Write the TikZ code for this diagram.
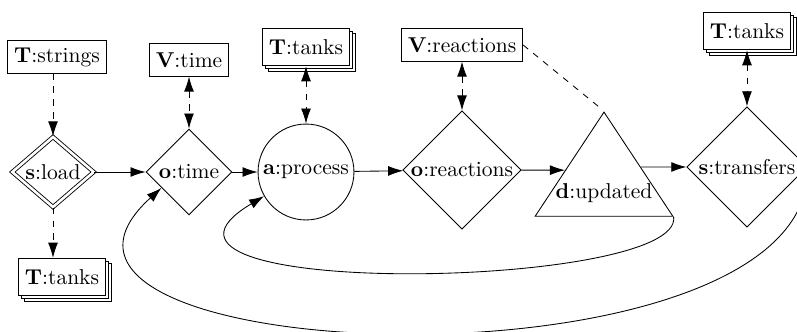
\documentclass[tikz,border=0pt]{standalone}
\usepackage{amssymb}
\usepackage{amsmath}
\usepackage{tikz}
\usetikzlibrary{shapes.geometric, arrows.meta, shadows, calc}

\begin{document}
\begin{tikzpicture}[
                x=0.465pt, y=-0.465pt,
                >={Latex[length=7pt,width=4.6pt]}, % big filled tips
                box/.style={rectangle, draw, fill=white, minimum height=15pt, inner sep=3pt}, % store
                tanks/.style={box, minimum height=17.5pt, double copy shadow={shadow xshift=1.3pt, shadow yshift=-1.3pt}}, % stacked store
                decision/.style={diamond, draw, fill=white, aspect=1, inner sep=0pt}, % observer or setter
                action/.style={circle, draw, fill=white, inner sep=0pt, minimum size=44.6pt}, % action
                result/.style={isosceles triangle, shape border rotate=90, isosceles triangle stretches, draw, fill=white, inner sep=0pt, minimum width=64pt, minimum height=48.4pt} % derived data
                ]
                \useasboundingbox (0,0) rectangle (797,331);
                % stores on top
                \node[box] (tstr) at (57,57) {\textbf{T}:strings};
                \node[box] (vtime) at (189,60) {\textbf{V}:time};
                \node[tanks] (ttkb) at (306,47) {\textbf{T}:tanks};
                \node[box] (vreac) at (462,45) {\textbf{V}:reactions};
                \node[tanks] (ttkc) at (747,31) {\textbf{T}:tanks};
                % main row
                \node[decision, double, double distance=1.2pt, minimum width=38pt, minimum height=31pt] (sload) at (53,172) {\textbf{s}:load};
                \node[decision, minimum size=40pt] (otime) at (189,172) {\textbf{o}:time};
                \node[action] (aproc) at (306,172) {\textbf{a}:process};
                \node[decision, minimum size=55pt] (oreac) at (462,170) {\textbf{o}:reactions};
                \node[result, anchor=apex] (dupd) at (604,111) {\makebox[0pt]{\smash{\raisebox{-9pt}{\textbf{d}:updated}}}};
                \node[decision, minimum size=56pt] (strans) at (747,167) {\textbf{s}:transfers};
                % store below
                \node[tanks] (ttka) at (62,277) {\textbf{T}:tanks};

                \draw[->, dashed] (tstr.south -| sload) -- (sload);
                \draw[->, dashed] (sload) -- (sload |- ttka.north);
                \draw[<->, dashed] (vtime) -- (otime);
                \draw[<->, dashed] (ttkb) -- (aproc);
                \draw[<->, dashed] (vreac) -- (oreac);
                \draw[<->, dashed] (ttkc) -- (strans);
                \draw[dashed, shorten >=3pt] (vreac.east) -- (dupd.apex);

                \draw[->] (sload) -- (otime);
                \draw[->] (otime) -- (aproc);
                \draw[->] (aproc) -- (oreac);
                \draw[->] (oreac) -- ($(dupd.apex)!0.56!(dupd.left corner)$);
                \draw[->] ($(dupd.apex)!0.53!(dupd.right corner)$) -- (strans);

                % feedback loops
                \draw[->] (dupd.right corner) .. controls (685,290) and (90,300) .. (aproc.210);
                \draw[->] (strans.east) .. controls (815,400) and (-40,370) .. (otime.210);
            \end{tikzpicture}
\end{document}
